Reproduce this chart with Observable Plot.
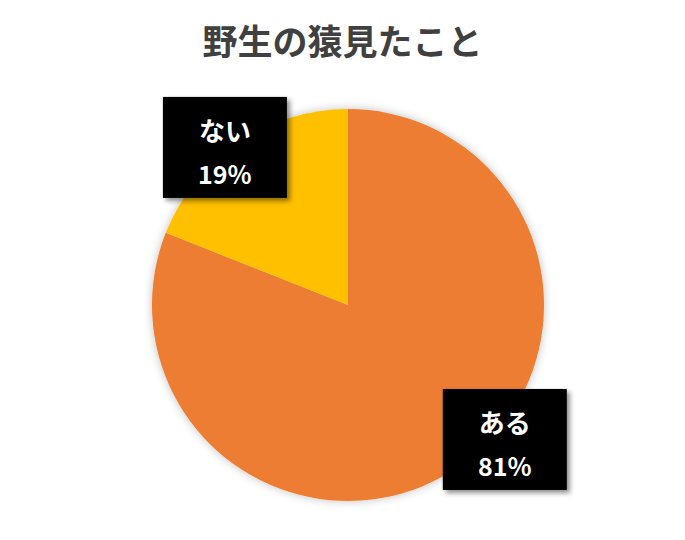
<!DOCTYPE html>
<html>
<head>
<meta charset="utf-8">
<script src="https://cdn.jsdelivr.net/npm/d3@7"></script>
<script src="https://cdn.jsdelivr.net/npm/@observablehq/plot@0.6"></script>
<style>
  html, body { margin: 0; padding: 0; background: #fff; }
  #title { height: 80px; box-sizing: border-box; padding-top: 17px; text-align: center;
    font-family: "Noto Sans CJK JP", sans-serif; font-weight: 700; font-size: 35px; color: #404040; line-height: 46px; }
</style>
</head>
<body>
<div id="title">野生の猿見たこと</div>
<div id="chart"></div>
<script>
const categories = ["ある", "ない"];
const values = [81, 19];
const colors = ["#ED7D31", "#FFC000"];
const labels = ["81%", "19%"];

const data = categories.map((c, i) => ({category: c, value: values[i], label: labels[i]}));

// layout (label box centres relative to the pie radius, not data)
const labelOffsets = {"ある": [0.80, -0.686], "ない": [-0.628, 0.804]};

const cx = 348, cy = 225, R = 196;

function pieMark(rows) {
  return (index, scales) => {
    const x0 = scales.x(0), y0 = scales.y(0), r = scales.x(1) - scales.x(0);
    const arcs = d3.pie().sort(null).value(d => d.value)(rows);
    const g = d3.create("svg:g");
    const defs = g.append("defs");
    const f = defs.append("filter").attr("id", "glow").attr("x", "-20%").attr("y", "-20%").attr("width", "140%").attr("height", "140%");
    f.append("feGaussianBlur").attr("in", "SourceAlpha").attr("stdDeviation", 5);
    f.append("feOffset").attr("dx", 0).attr("dy", 0).attr("result", "b");
    f.append("feComponentTransfer").append("feFuncA").attr("type", "linear").attr("slope", 0.25);
    const m = f.append("feMerge"); m.append("feMergeNode"); m.append("feMergeNode").attr("in", "SourceGraphic");
    const gg = g.append("g").attr("transform", `translate(${x0},${y0})`).attr("filter", "url(#glow)");
    gg.selectAll("path").data(arcs).join("path")
      .attr("d", d3.arc().innerRadius(0).outerRadius(r))
      .attr("fill", d => scales.color(d.data.category));
    return g.node();
  };
}

function labelMark(rows) {
  return (index, scales) => {
    const g = d3.create("svg:g");
    const defs = g.append("defs");
    const f = defs.append("filter").attr("id", "shadow").attr("x", "-20%").attr("y", "-20%").attr("width", "150%").attr("height", "150%");
    f.append("feDropShadow").attr("dx", 3).attr("dy", 3).attr("stdDeviation", 2.5).attr("flood-color", "#000").attr("flood-opacity", 0.45);
    for (const d of rows) {
      const [ox, oy] = labelOffsets[d.category];
      const px = scales.x(ox), py = scales.y(oy);
      const w = 124, h = 101;
      g.append("rect").attr("x", px - w / 2).attr("y", py - h / 2).attr("width", w).attr("height", h)
        .attr("fill", "#000").attr("filter", "url(#shadow)");
      g.append("text").attr("x", px).attr("y", py - 17.5).attr("text-anchor", "middle").attr("dominant-baseline", "central")
        .attr("fill", "#fff").attr("font-family", '"Noto Sans CJK JP", sans-serif').attr("font-weight", 700).attr("font-size", 26)
        .text(d.category);
      g.append("text").attr("x", px).attr("y", py + 25.5).attr("text-anchor", "middle").attr("dominant-baseline", "central")
        .attr("fill", "#fff").attr("font-family", '"Noto Sans CJK JP", sans-serif').attr("font-weight", 700).attr("font-size", 25)
        .text(d.label);
    }
    return g.node();
  };
}

const chart = Plot.plot({
  width: 685,
  height: 460,
  margin: 0,
  x: {domain: [-1, 1], range: [cx - R, cx + R], axis: null},
  y: {domain: [-1, 1], range: [cy + R, cy - R], axis: null},
  color: {domain: categories, range: colors},
  style: {overflow: "visible", background: "transparent"},
  marks: [
    pieMark(data),
    labelMark(data)
  ]
});
document.getElementById("chart").appendChild(chart);
</script>
</body>
</html>
